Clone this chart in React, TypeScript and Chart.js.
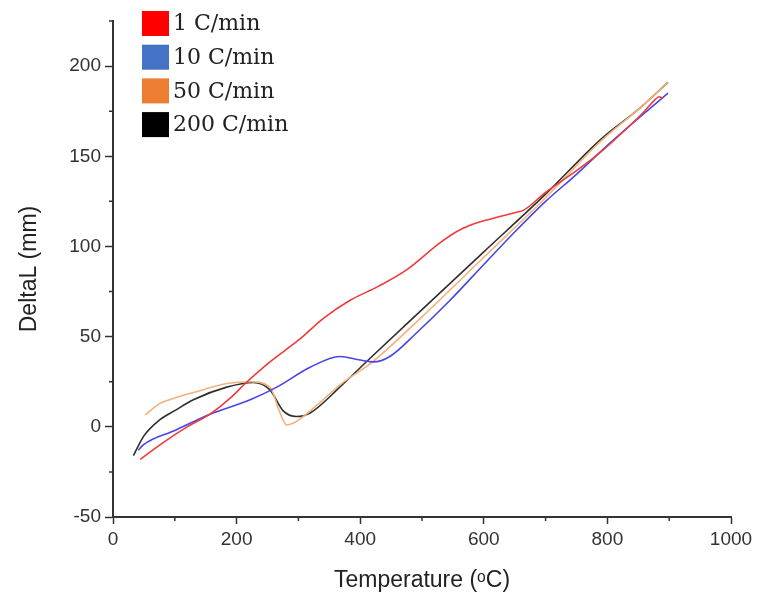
import React, { useEffect, useRef } from "react";
import { Chart, registerables } from "chart.js";

Chart.register(...registerables);

const seriesLabels = ["1 C/min", "10 C/min", "50 C/min", "200 C/min"];
const legendColors = ["#FF0000", "#4472C4", "#ED7D31", "#000000"];
const lineColors = ["#f03a3a", "#4646e6", "#f2b27a", "#2e2e2e"];

const rate1Temp = [44, 80, 120, 157, 190, 214, 254, 300, 340, 383, 430, 475, 529, 560, 588, 620, 653, 664, 700, 750, 788, 830, 860, 876, 884, 890];
const rate1Delta = [-18, -9, 0, 7, 16, 24, 36, 48, 60, 70, 78, 87, 102, 109, 113, 116, 119, 120, 130, 142, 152, 165, 175, 181, 183, 182];

const rate10Temp = [41, 49, 100, 157, 222, 265, 319, 367, 400, 421, 448, 491, 545, 600, 650, 700, 750, 800, 850, 898];
const rate10Delta = [-13, -10, -2, 7, 15, 22, 33, 39, 37, 36, 39, 52, 70, 90, 108, 125, 140, 156, 171, 185];

const rate50Temp = [52, 76, 100, 130, 184, 222, 254, 270, 281, 297, 330, 370, 420, 500, 600, 700, 788, 850, 898];
const rate50Delta = [6.6, 13, 16, 19, 24, 25, 22, 8, 1, 3, 12, 24, 36, 61, 94, 127, 158, 176, 191];

const rate200Temp = [33, 50, 76, 100, 130, 184, 227, 254, 275, 297, 319, 370, 416, 500, 600, 700, 788, 850, 898];
const rate200Delta = [-16, -5, 4, 9, 15, 22, 24.6, 20.5, 9, 5.7, 7.7, 23, 38, 65, 97, 129, 159, 176, 191];

const xMajorTicks = [0, 200, 400, 600, 800, 1000];
const xMinorTicks = [100, 300, 500, 700, 900];
const yMajorTicks = [-50, 0, 50, 100, 150, 200];
const yMinorTicks = [-25, 25, 75, 125, 175, 225];

const toPoints = (xs: number[], ys: number[]) => xs.map((x, i) => ({ x, y: ys[i] }));

const minorTicksPlugin = {
  id: "minorTicks",
  afterDraw(chart: any) {
    const ctx = chart.ctx;
    const xs = chart.scales.x;
    const ys = chart.scales.y;
    const area = chart.chartArea;
    ctx.save();
    ctx.strokeStyle = "#333";
    ctx.lineWidth = 1.5;
    ctx.beginPath();
    xMinorTicks.forEach((v) => {
      const px = xs.getPixelForValue(v);
      ctx.moveTo(px, area.bottom);
      ctx.lineTo(px, area.bottom + 4);
    });
    yMinorTicks.forEach((v) => {
      const py = ys.getPixelForValue(v);
      ctx.moveTo(area.left, py);
      ctx.lineTo(area.left - 4, py);
    });
    ctx.stroke();
    ctx.restore();
  },
};

const legendPlugin = {
  id: "customLegend",
  afterDraw(chart: any) {
    const ctx = chart.ctx;
    ctx.save();
    const boxX = 142;
    const boxW = 27;
    const boxH = 25;
    const startY = 11;
    const step = 33.7;
    ctx.font = '22px "DejaVu Serif", "Liberation Serif", serif';
    ctx.textBaseline = "middle";
    ctx.textAlign = "left";
    chart.data.datasets.forEach((ds: any, i: number) => {
      const y = startY + i * step;
      ctx.fillStyle = legendColors[i];
      ctx.fillRect(boxX, y, boxW, boxH);
      ctx.fillStyle = "#222";
      ctx.fillText(ds.label, boxX + boxW + 4, y + boxH / 2 + 1);
    });
    ctx.restore();
  },
};

export default function App() {
  const canvasRef = useRef<HTMLCanvasElement | null>(null);

  useEffect(() => {
    if (!canvasRef.current) return;
    const datasets = [
      { data: toPoints(rate1Temp, rate1Delta) },
      { data: toPoints(rate10Temp, rate10Delta) },
      { data: toPoints(rate50Temp, rate50Delta) },
      { data: toPoints(rate200Temp, rate200Delta) },
    ].map((d, i) => ({
      label: seriesLabels[i],
      data: d.data,
      showLine: true,
      borderColor: lineColors[i],
      backgroundColor: lineColors[i],
      borderWidth: 1.6,
      pointRadius: 0,
      cubicInterpolationMode: "monotone" as const,
      fill: false,
    }));

    const tickFont = { family: '"Liberation Sans", Arial, sans-serif', size: 19 };
    const titleFont = { family: '"Liberation Sans", "DejaVu Sans", Arial, sans-serif', size: 23 };

    const chart = new Chart(canvasRef.current, {
      type: "scatter",
      data: { datasets },
      plugins: [minorTicksPlugin, legendPlugin],
      options: {
        animation: false,
        responsive: false,
        devicePixelRatio: 1,
        layout: { padding: { top: 21, right: 26, left: 0, bottom: 0 } },
        plugins: { legend: { display: false }, tooltip: { enabled: false } },
        scales: {
          x: {
            type: "linear",
            min: 0,
            max: 1000,
            afterBuildTicks: (scale: any) => {
              scale.ticks = xMajorTicks.map((v) => ({ value: v }));
            },
            afterFit: (scale: any) => {
              scale.height = 88;
            },
            ticks: { font: tickFont, color: "#333", padding: 4, maxRotation: 0, callback: (v: any) => String(v) },
            grid: { drawOnChartArea: false, tickLength: 7, tickColor: "#333", tickWidth: 1.5 },
            border: { color: "#333", width: 2 },
            title: {
              display: true,
              text: "Temperature (ᵒC)",
              font: titleFont,
              color: "#222",
              padding: { top: 0, bottom: 11 },
            },
          },
          y: {
            type: "linear",
            min: -50,
            max: 225,
            afterBuildTicks: (scale: any) => {
              scale.ticks = yMajorTicks.map((v) => ({ value: v }));
            },
            afterFit: (scale: any) => {
              scale.width = 113;
            },
            ticks: { font: tickFont, color: "#333", padding: 4, callback: (v: any) => String(v) },
            grid: { drawOnChartArea: false, tickLength: 8, tickColor: "#333", tickWidth: 1.5 },
            border: { color: "#333", width: 2 },
            title: {
              display: true,
              text: "DeltaL (mm)",
              font: titleFont,
              color: "#222",
              padding: { top: 16, bottom: 0 },
            },
          },
        },
      },
    } as any);
    return () => chart.destroy();
  }, []);

  return (
    <div style={{ position: "absolute", left: 0, top: 0, width: 757, height: 605, background: "#fff" }}>
      <canvas ref={canvasRef} width={757} height={605} style={{ display: "block" }} />
    </div>
  );
}
